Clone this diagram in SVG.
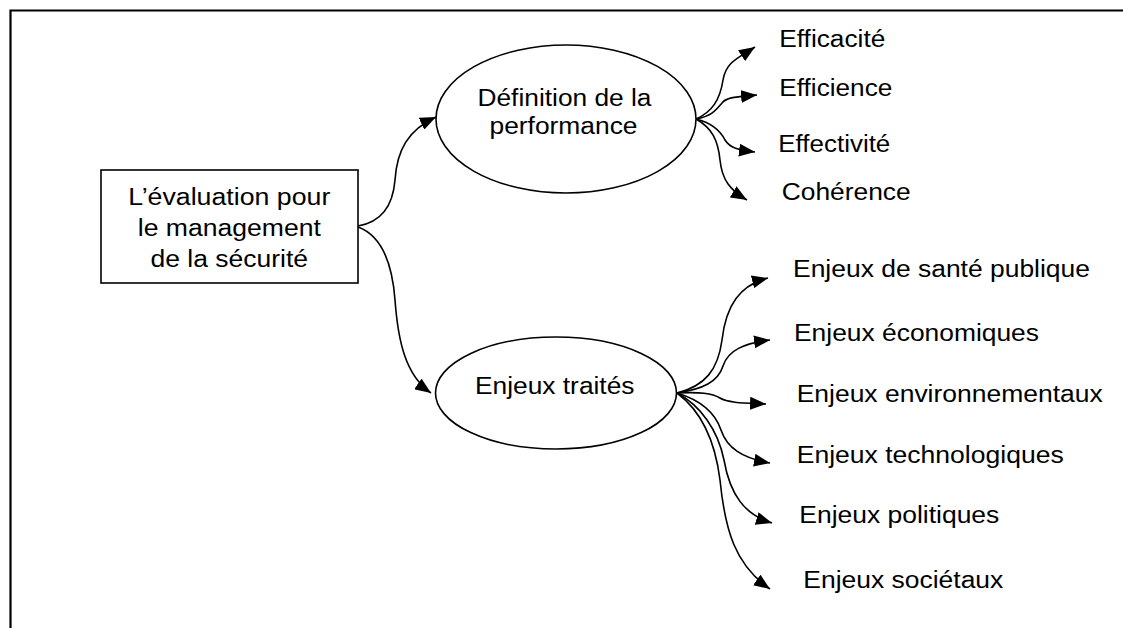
<svg xmlns="http://www.w3.org/2000/svg" width="1123" height="628" viewBox="0 0 1123 628">
<style>
  text { font-family: "Liberation Sans", Arial, sans-serif; font-size: 23.5px; fill: #000; }
  .shape { fill: #fff; stroke: #000; stroke-width: 1.6; }
  .conn { fill: none; stroke: #000; stroke-width: 1.6; marker-end: url(#arr); }
</style>
<defs>
  <marker id="arr" markerUnits="userSpaceOnUse" markerWidth="17" markerHeight="13" refX="16" refY="6.5" orient="auto">
    <path d="M0,0 L16,6.5 L0,13 z" fill="#000"/>
  </marker>
</defs>
<rect x="0" y="0" width="1123" height="628" fill="#fff"/>
<path d="M10.5,628 L10.5,10.5 L1123,10.5" fill="none" stroke="#000" stroke-width="2.2"/>

<g id="connectors">
  <path class="conn" d="M358,226 C382,222 393,205 395,180 C397,150 408,130 436,117"/>
  <path class="conn" d="M358,227 C380,235 392,260 395,300 C398,340 405,375 431,393"/>
  <path class="conn" d="M696,119 C712,112 720,100 723,80 C726,62 738,58 755,47"/>
  <path class="conn" d="M696,119 C712,116 716,110 722,103 C727,97 735,97 757,95"/>
  <path class="conn" d="M696,119 C712,123 720,130 725,140 C730,148 738,150 755,152"/>
  <path class="conn" d="M696,119 C712,128 718,140 720,160 C722,180 730,190 747,200"/>
  <path class="conn" d="M677,393 C705,386 718,370 722,340 C726,305 740,285 768,278"/>
  <path class="conn" d="M677,393 C703,389 718,382 723,366 C728,350 745,343 770,340"/>
  <path class="conn" d="M677,393 C700,392 712,393 720,398 C728,403 745,403 766,404"/>
  <path class="conn" d="M677,393 C700,400 715,412 721,430 C727,448 742,458 770,463"/>
  <path class="conn" d="M677,393 C700,405 718,430 724,460 C730,495 745,515 772,523"/>
  <path class="conn" d="M677,393 C700,410 715,440 720,480 C725,530 735,565 770,589"/>
</g>

<g id="node-evaluation">
  <rect class="shape" x="101" y="170" width="257" height="113"/>
  <text x="229.3" y="205" text-anchor="middle" textLength="202" lengthAdjust="spacingAndGlyphs">L’évaluation pour</text>
  <text x="229.3" y="236" text-anchor="middle" textLength="183" lengthAdjust="spacingAndGlyphs">le management</text>
  <text x="229.3" y="267" text-anchor="middle" textLength="157.5" lengthAdjust="spacingAndGlyphs">de la sécurité</text>
</g>

<g id="node-definition">
  <ellipse class="shape" cx="566" cy="119" rx="130" ry="74"/>
  <text x="564.5" y="106" text-anchor="middle" textLength="174" lengthAdjust="spacingAndGlyphs">Définition de la</text>
  <text x="563.5" y="134" text-anchor="middle" textLength="148" lengthAdjust="spacingAndGlyphs">performance</text>
</g>

<g id="node-enjeux">
  <ellipse class="shape" cx="556" cy="393" rx="120.5" ry="56"/>
  <text x="475" y="394.3" textLength="159.5" lengthAdjust="spacingAndGlyphs">Enjeux traités</text>
</g>

<g id="node-efficacite"><text x="779.3" y="46.7" textLength="106" lengthAdjust="spacingAndGlyphs">Efficacité</text></g>
<g id="node-efficience"><text x="779.3" y="96" textLength="113" lengthAdjust="spacingAndGlyphs">Efficience</text></g>
<g id="node-effectivite"><text x="778.3" y="151.7" textLength="112" lengthAdjust="spacingAndGlyphs">Effectivité</text></g>
<g id="node-coherence"><text x="781.7" y="200" textLength="129" lengthAdjust="spacingAndGlyphs">Cohérence</text></g>

<g id="node-sante"><text x="793" y="277" textLength="297" lengthAdjust="spacingAndGlyphs">Enjeux de santé publique</text></g>
<g id="node-economiques"><text x="794" y="340.7" textLength="245" lengthAdjust="spacingAndGlyphs">Enjeux économiques</text></g>
<g id="node-environnementaux"><text x="796.7" y="401.7" textLength="306" lengthAdjust="spacingAndGlyphs">Enjeux environnementaux</text></g>
<g id="node-technologiques"><text x="796.7" y="462.7" textLength="267" lengthAdjust="spacingAndGlyphs">Enjeux technologiques</text></g>
<g id="node-politiques"><text x="799.3" y="522.7" textLength="200" lengthAdjust="spacingAndGlyphs">Enjeux politiques</text></g>
<g id="node-societaux"><text x="803.3" y="588.3" textLength="200" lengthAdjust="spacingAndGlyphs">Enjeux sociétaux</text></g>
</svg>
